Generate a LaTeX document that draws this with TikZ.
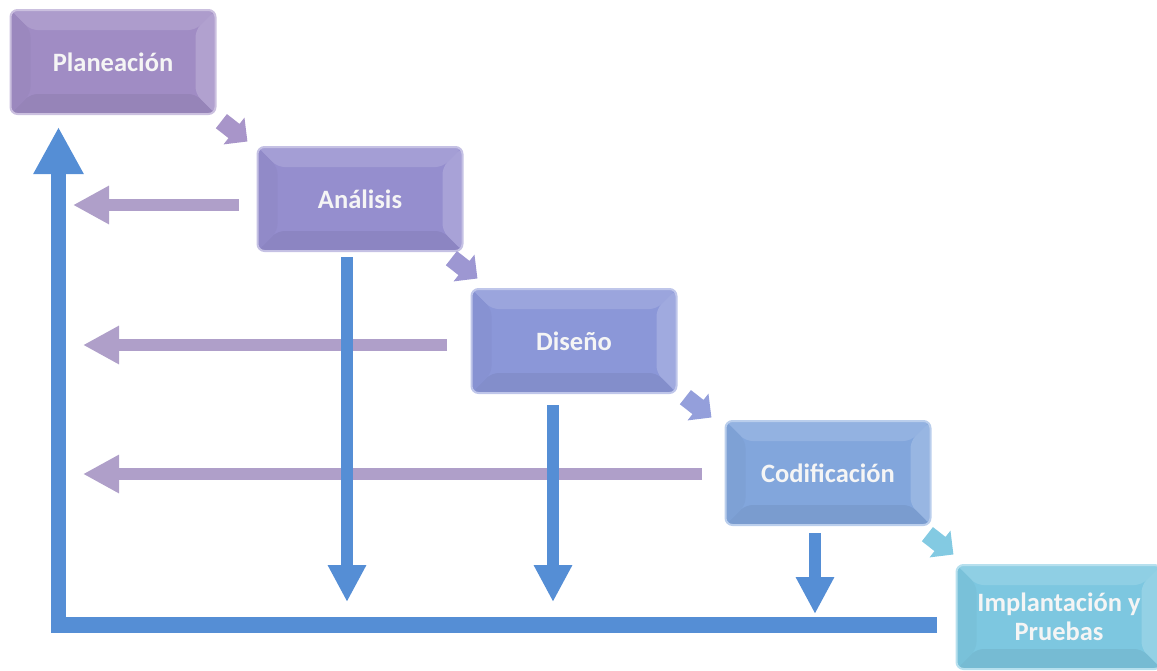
\documentclass[tikz,border=0pt]{standalone}
\usepackage{fontspec}
\setmainfont{Carlito}
\usetikzlibrary{arrows.meta,calc}

\definecolor{cPlan}{HTML}{A08CC4}
\definecolor{cAnal}{HTML}{958ECE}
\definecolor{cDis}{HTML}{8B97D8}
\definecolor{cCod}{HTML}{82A6DC}
\definecolor{cImpl}{HTML}{7DC7E0}
\definecolor{cBack}{HTML}{AF9FC9}
\definecolor{cFlow}{HTML}{558ED5}

\tikzset{
  phase/.style={
    rounded corners=7pt, fill=#1, draw=#1!55!white, line width=2pt,
    minimum width=205pt, minimum height=104pt, inner sep=0pt,
    align=center, text=white!96!black,
    font=\fontsize{26.5}{29}\selectfont\bfseries,
    path picture={
      \coordinate (bnw) at (path picture bounding box.north west);
      \coordinate (bne) at (path picture bounding box.north east);
      \coordinate (bse) at (path picture bounding box.south east);
      \coordinate (bsw) at (path picture bounding box.south west);
      \fill[#1!86!white] (bnw) -- (bne) -- ($(bne)+(-20pt,-20pt)$) -- ($(bnw)+(20pt,-20pt)$) -- cycle;
      \fill[#1!82!white] (bne) -- (bse) -- ($(bse)+(-20pt,20pt)$) -- ($(bne)+(-20pt,-20pt)$) -- cycle;
      \fill[#1!94!black] (bse) -- (bsw) -- ($(bsw)+(20pt,20pt)$) -- ($(bse)+(-20pt,20pt)$) -- cycle;
      \fill[#1!97!black] (bsw) -- (bnw) -- ($(bnw)+(20pt,-20pt)$) -- ($(bsw)+(20pt,20pt)$) -- cycle;
    }},
  backarrow/.style={draw=cBack, line width=12pt,
    -{Triangle[width=36pt,length=36pt]}},
  flowarrow/.style={draw=cFlow, line width=12pt,
    -{Triangle[width=36pt,length=37pt]}},
  chev/.pic={
    \fill[pic actions] (-16pt,-9pt) -- (0pt,-9pt) -- (0pt,-17pt) -- (17pt,0pt)
      -- (0pt,17pt) -- (0pt,9pt) -- (-16pt,9pt) -- cycle;
  },
}

\begin{document}
\begin{tikzpicture}[x=1pt,y=-1pt]
  \useasboundingbox (0,0) rectangle (1157,670);

  % phases of the cycle
  \node[phase=cPlan] (plan) at (113,62) {Planeación};
  \node[phase=cAnal] (anal) at (360,199) {Análisis};
  \node[phase=cDis]  (dis)  at (574,341) {Diseño};
  \node[phase=cCod]  (cod)  at (828,473) {Codificación};
  \node[phase=cImpl] (impl) at (1059,617) {Implantación y\\Pruebas};

  % small arrows leading from one phase to the next
  \pic[fill=cPlan!92!white, rotate=-38] at (234,131) {chev};
  \pic[fill=cAnal!92!white, rotate=-38] at (464,268) {chev};
  \pic[fill=cDis!92!white,  rotate=-38] at (698,407) {chev};
  \pic[fill=cImpl!95!white, rotate=-38] at (940,544) {chev};

  % returns to earlier phases
  \coordinate (ra) at (239,205);  \coordinate (ta) at (73,205);
  \coordinate (rd) at (447,345);  \coordinate (td) at (83,345);
  \coordinate (rc) at (702,474);  \coordinate (tc) at (83,474);
  \draw[backarrow] (ra) -- (ta);
  \draw[backarrow] (rd) -- (td);
  \draw[backarrow] (rc) -- (tc);

  % outputs dropping to the feedback line
  \coordinate (da) at (347,257);  \coordinate (ea) at (347,602);
  \coordinate (dd) at (553,405);  \coordinate (ed) at (553,602);
  \coordinate (dc) at (815,533);  \coordinate (ec) at (815,614);
  \draw[flowarrow] (da) -- (ea);
  \draw[flowarrow] (dd) -- (ed);
  \draw[flowarrow] (dc) -- (ec);

  % feedback line back to planning
  \coordinate (fs) at (937,625);
  \coordinate (fc) at (58.5,625);
  \coordinate (ft) at (58.5,127);
  \draw[cFlow, line width=15.5pt, line join=miter,
        -{Triangle[width=47pt,length=47pt]}] (fs) -- (fc) -- (ft);
\end{tikzpicture}
\end{document}
